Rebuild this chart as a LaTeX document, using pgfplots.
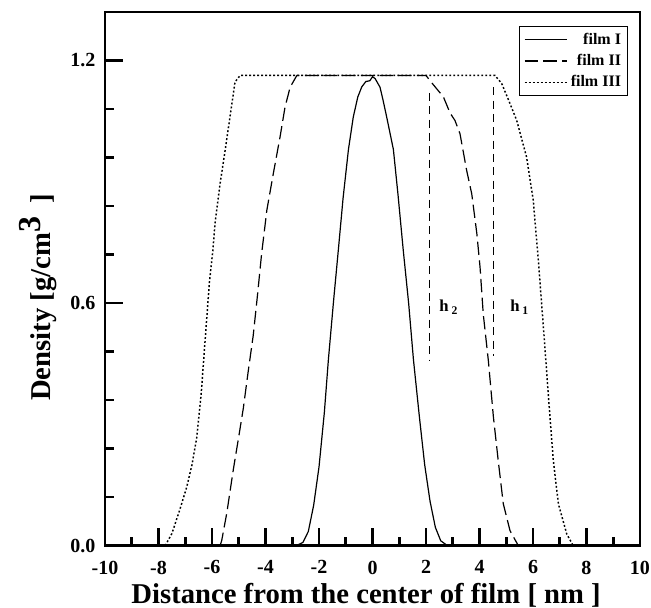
\documentclass[border=0pt]{standalone}
\usepackage{pgfplots}
\pgfplotsset{compat=1.18}
\usepackage{fontspec}
\setmainfont{Liberation Serif}

\begin{document}
\begin{tikzpicture}
  % page frame: axis box sits at (0,0)--(401pt,400pt)
  \path[use as bounding box] (-78.75pt,-46.5pt) rectangle (409.25pt,409pt);
  \begin{axis}[
      scale only axis,
      width=401pt, height=400pt,
      line width=2pt,
      xmin=-10, xmax=10,
      ymin=0, ymax=1.32,
      xtick={-10,-8,...,10},
      minor x tick num=1,
      ytick={0,0.6,1.2},
      minor y tick num=4,
      tick align=inside,
      xtick pos=left, ytick pos=left,
      major tick length=13.5pt,
      minor tick length=6.75pt,
      every tick/.style={black, line width=2pt},
      yticklabel={\pgfmathprintnumber[fixed,precision=1,zerofill]{\tick}},
      /pgf/number format/assume math mode=true,
      tick label style={font=\fontsize{15}{17}\selectfont\bfseries},
      xticklabel style={yshift=-7pt},
      yticklabel style={xshift=-3pt},
      xlabel={Distance from the center of film [ nm ]},
      ylabel={Density [g/cm\raisebox{0.75ex}{\fontsize{24}{24}\selectfont 3}\hspace{0.45em}]},
      every axis x label/.style={at={(axis description cs:0.488,-0.108)}, anchor=base,
        font=\fontsize{21.5}{24}\selectfont\bfseries},
      every axis y label/.style={at={(axis description cs:-0.125,0.465)}, rotate=90, anchor=center,
        font=\fontsize{21.5}{24}\selectfont\bfseries},
      legend style={at={(axis description cs:0.978,0.974)}, anchor=north east,
        draw=black, line width=0.8pt, font=\fontsize{12}{13}\selectfont\bfseries,
        row sep=2pt, inner sep=3pt, cells={anchor=east}},
      legend image code/.code={\draw[#1] (0pt,0pt) -- (32pt,0pt);},
    ]
    % --- film I ---
    \addplot[black, line width=0.9pt, solid] coordinates {
      (-2.85,0) (-2.6,0.008) (-2.4,0.035) (-2.2,0.1) (-2.0,0.195) (-1.8,0.33)
      (-1.65,0.46) (-1.45,0.61) (-1.28,0.73) (-1.1,0.86) (-0.9,0.98) (-0.72,1.06)
      (-0.55,1.11) (-0.4,1.135) (-0.25,1.148) (-0.1,1.15) (0.0,1.16) (0.1,1.155)
      (0.28,1.134) (0.4,1.1) (0.53,1.06) (0.78,0.98) (0.95,0.87) (1.15,0.73)
      (1.35,0.6) (1.53,0.46) (1.75,0.32) (1.95,0.2) (2.15,0.11) (2.35,0.045)
      (2.55,0.012) (2.8,0)};
    \addlegendentry{film I}
    % --- film II ---
    \addplot[black, line width=0.9pt, dash pattern=on 10pt off 4pt] coordinates {
      (-5.7,0) (-5.64,0.012) (-5.45,0.08) (-5.2,0.19) (-5.0,0.27) (-4.83,0.34)
      (-4.65,0.43) (-4.46,0.52) (-4.3,0.62) (-4.15,0.72) (-3.95,0.83) (-3.71,0.92)
      (-3.46,1.01) (-3.27,1.085) (-3.08,1.134) (-2.83,1.163) (-2,1.163) (0,1.163)
      (2.0,1.163) (2.15,1.15) (2.4,1.13) (2.65,1.11) (2.9,1.07) (3.08,1.052)
      (3.27,1.019) (3.52,0.928) (3.71,0.87) (3.90,0.772) (4.02,0.689) (4.14,0.573)
      (4.33,0.458) (4.52,0.318) (4.70,0.21) (4.89,0.103) (5.14,0.037) (5.45,0)};
    \addlegendentry{film II}
    % --- film III ---
    \addplot[black, line width=1.1pt, dash pattern=on 1.4pt off 1.6pt] coordinates {
      (-7.75,0) (-7.5,0.03) (-7.2,0.09) (-6.95,0.144) (-6.75,0.2) (-6.57,0.268)
      (-6.4,0.38) (-6.26,0.507) (-6.1,0.65) (-5.97,0.73) (-5.89,0.796) (-5.70,0.895)
      (-5.51,0.978) (-5.33,1.06) (-5.14,1.147) (-4.95,1.163) (0,1.163) (4.58,1.163)
      (4.83,1.143) (5.1,1.1) (5.39,1.052) (5.76,0.961) (6.01,0.854) (6.20,0.705)
      (6.39,0.540) (6.57,0.375) (6.76,0.21) (6.95,0.103) (7.26,0.029) (7.5,0)};
    \addlegendentry{film III}
    % --- thickness markers h1, h2 ---
    \addplot[black, line width=0.9pt, dash pattern=on 6pt off 4pt, forget plot]
      coordinates {(2.12,1.12) (2.12,0.458)};
    \addplot[black, line width=0.9pt, dash pattern=on 6pt off 4pt, forget plot]
      coordinates {(4.52,1.134) (4.52,0.47)};
    \node[font=\fontsize{12.5}{14}\selectfont\bfseries] at (axis cs:2.85,0.59) {h\,\textsubscript{2}};
    \node[font=\fontsize{12.5}{14}\selectfont\bfseries] at (axis cs:5.5,0.59) {h\,\textsubscript{1}};
  \end{axis}
\end{tikzpicture}
\end{document}
